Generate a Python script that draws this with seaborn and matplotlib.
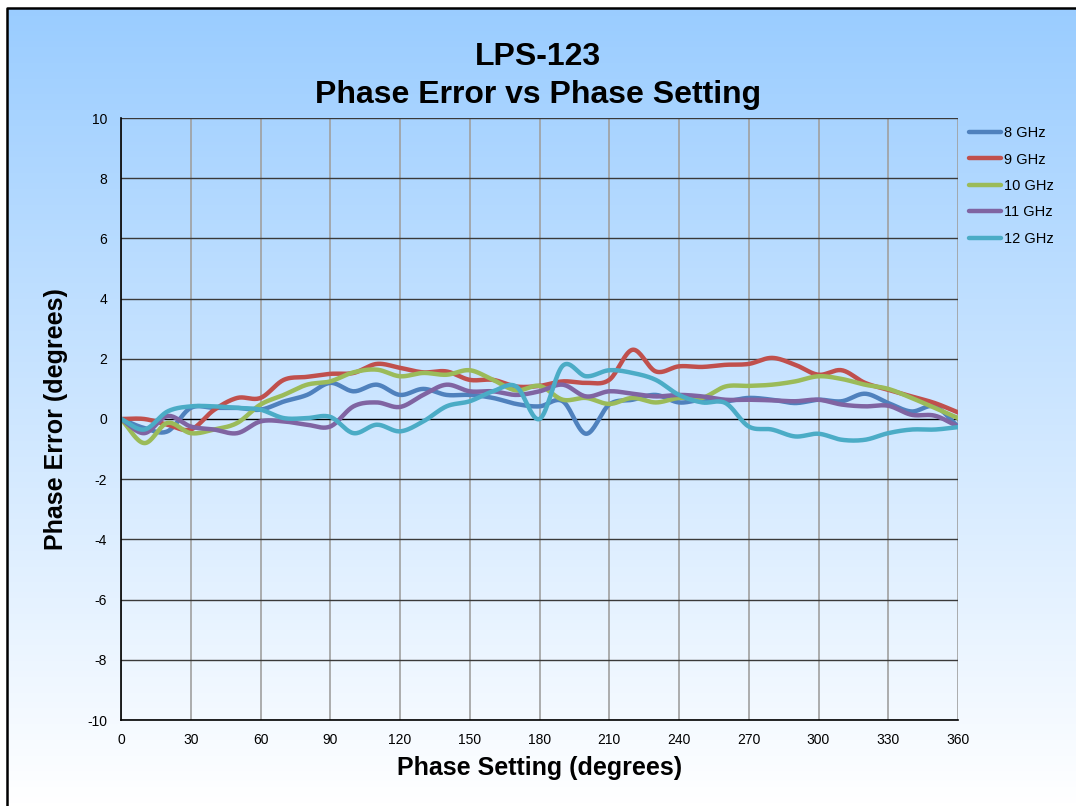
import numpy as np
import pandas as pd
import matplotlib
matplotlib.use("Agg")
import matplotlib.pyplot as plt
import seaborn as sns
from matplotlib.patches import Rectangle
from matplotlib.lines import Line2D

# ---------------- data ----------------
phase = [0, 10, 20, 30, 40, 50, 60, 70, 80, 90, 100, 110, 120, 130, 140, 150, 160, 170, 180,
         190, 200, 210, 220, 230, 240, 250, 260, 270, 280, 290, 300, 310, 320, 330, 340, 350, 360]
series_names = ["8 GHz", "9 GHz", "10 GHz", "11 GHz", "12 GHz"]
err_8 = [0, -0.3, -0.41, 0.37, 0.37, 0.37, 0.31, 0.58, 0.8, 1.2, 0.92, 1.14, 0.8, 1.0, 0.8, 0.8, 0.7, 0.5, 0.42,
         0.59, -0.49, 0.48, 0.64, 0.8, 0.55, 0.64, 0.59, 0.7, 0.64, 0.53, 0.64, 0.59, 0.84, 0.53, 0.25, 0.42, -0.25]
err_9 = [0, 0.0, -0.19, -0.35, 0.3, 0.7, 0.7, 1.3, 1.4, 1.5, 1.53, 1.83, 1.7, 1.55, 1.58, 1.3, 1.3, 1.08, 1.1,
         1.25, 1.2, 1.3, 2.3, 1.58, 1.75, 1.73, 1.8, 1.83, 2.03, 1.8, 1.47, 1.62, 1.2, 0.97, 0.75, 0.53, 0.22]
err_10 = [0, -0.8, -0.13, -0.47, -0.35, -0.13, 0.48, 0.8, 1.14, 1.25, 1.55, 1.64, 1.42, 1.53, 1.47, 1.62, 1.3, 0.95, 1.1,
          0.64, 0.7, 0.5, 0.7, 0.55, 0.7, 0.7, 1.08, 1.1, 1.14, 1.25, 1.42, 1.33, 1.14, 1.0, 0.7, 0.37, 0.03]
err_11 = [0, -0.47, 0.1, -0.25, -0.35, -0.47, -0.08, -0.08, -0.19, -0.25, 0.42, 0.55, 0.4, 0.8, 1.14, 0.92, 0.92, 0.8, 0.92,
          1.14, 0.75, 0.92, 0.84, 0.75, 0.8, 0.75, 0.64, 0.64, 0.62, 0.59, 0.64, 0.48, 0.42, 0.44, 0.14, 0.11, -0.25]
err_12 = [0, -0.35, 0.25, 0.42, 0.42, 0.37, 0.31, 0.03, 0.03, 0.07, -0.47, -0.19, -0.41, -0.08, 0.42, 0.59, 0.92, 1.08, 0.0,
          1.77, 1.42, 1.62, 1.53, 1.3, 0.8, 0.55, 0.53, -0.25, -0.35, -0.58, -0.49, -0.69, -0.69, -0.47, -0.35, -0.35, -0.27]
colors = ["#4F81BD", "#C0504D", "#9BBB59", "#8064A2", "#4BACC6"]
x_ticks = list(range(0, 361, 30))
y_ticks = list(range(-10, 11, 2))


def catmull_rom(x, y, n=20):
    """Smoothed-line rendering (like a spreadsheet 'smoothed line') through the data points."""
    x = np.asarray(x, float)
    y = np.asarray(y, float)
    px = np.concatenate([[2 * x[0] - x[1]], x, [2 * x[-1] - x[-2]]])
    py = np.concatenate([[2 * y[0] - y[1]], y, [2 * y[-1] - y[-2]]])
    xs, ys = [], []
    t = np.linspace(0, 1, n, endpoint=False)
    for i in range(1, len(px) - 2):
        p0, p1, p2, p3 = py[i - 1], py[i], py[i + 1], py[i + 2]
        q0, q1, q2, q3 = px[i - 1], px[i], px[i + 1], px[i + 2]
        ys.append(0.5 * (2 * p1 + (-p0 + p2) * t + (2 * p0 - 5 * p1 + 4 * p2 - p3) * t ** 2 + (-p0 + 3 * p1 - 3 * p2 + p3) * t ** 3))
        xs.append(0.5 * (2 * q1 + (-q0 + q2) * t + (2 * q0 - 5 * q1 + 4 * q2 - q3) * t ** 2 + (-q0 + 3 * q1 - 3 * q2 + q3) * t ** 3))
    xs.append([x[-1]])
    ys.append([y[-1]])
    return np.concatenate(xs), np.concatenate(ys)


frames = []
for name, vals in zip(series_names, [err_8, err_9, err_10, err_11, err_12]):
    sx, sy = catmull_rom(phase, vals)
    frames.append(pd.DataFrame({"phase": sx, "err": sy, "series": name, "order": np.arange(len(sx))}))
df = pd.concat(frames, ignore_index=True)

sns.set_theme(style="white")
plt.rcParams["font.family"] = ["Liberation Sans", "DejaVu Sans"]
plt.rcParams["axes.unicode_minus"] = False
plt.rcParams["text.color"] = "black"
plt.rcParams["axes.labelcolor"] = "black"

W, H = 1076, 806
fig = plt.figure(figsize=(W / 100, H / 100), dpi=100)

# gradient background
bg = fig.add_axes([0, 0, 1, 1], zorder=-10)
grad = np.linspace(0, 1, 256)[:, None]
top = np.array([153, 204, 255]) / 255.0
bot = np.array([255, 255, 255]) / 255.0
img = top[None, None, :] * (1 - grad[:, :, None]) + bot[None, None, :] * grad[:, :, None]
img = np.repeat(img, 2, axis=1)
bg.imshow(img, aspect="auto", extent=[0, 1, 0, 1], origin="upper")
bg.set_xlim(0, 1)
bg.set_ylim(0, 1)
bg.axis("off")
bx0, by1 = 7 / W, 1 - 8 / H
bg.add_patch(Rectangle((0, by1), 1, 1 - by1, facecolor="white", edgecolor="none", zorder=2))
bg.add_patch(Rectangle((0, 0), bx0, 1, facecolor="white", edgecolor="none", zorder=2))
bg.plot([bx0, bx0, 1.01], [-0.01, by1, by1], color="black", lw=1.8, zorder=3, transform=bg.transAxes, clip_on=False)

ax = fig.add_axes([121 / W, 1 - 720 / H, (958 - 121) / W, (720 - 118) / H])
ax.patch.set_alpha(0)

sns.lineplot(data=df, x="phase", y="err", hue="series", hue_order=series_names,
             palette=colors, linewidth=3.2, sort=False, units="series", estimator=None,
             legend=False, ax=ax)

ax.set_xlim(0, 360)
ax.set_ylim(-10, 10)
ax.set_xticks(x_ticks)
ax.set_yticks(y_ticks)
ax.tick_params(axis="x", labelsize=10, colors="black", length=0, pad=9)
ax.tick_params(axis="y", labelsize=10, colors="black", length=0, pad=10)
for v in x_ticks:
    ax.axvline(v, color="#A0A0A0", lw=1.2, zorder=0.5)
for v in y_ticks:
    ax.axhline(v, color="#000000" if v == 0 else "#3A3A3A", lw=1.0, zorder=0.6)
for side in ["top", "right"]:
    ax.spines[side].set_visible(False)
for side in ["left", "bottom"]:
    ax.spines[side].set_color("black")
    ax.spines[side].set_linewidth(1.2)

ax.set_xlabel("Phase Setting (degrees)", fontsize=18, fontweight="bold", labelpad=7)
ax.set_ylabel("Phase Error (degrees)", fontsize=18, fontweight="bold", labelpad=14)

fig.text(538 / W, 1 - 57 / H, "LPS-123", ha="center", va="center", fontsize=23, fontweight="bold")
fig.text(538 / W, 1 - 95 / H, "Phase Error vs Phase Setting", ha="center", va="center", fontsize=23, fontweight="bold")

handles = [Line2D([0], [0], color=c, lw=3.2) for c in colors]
leg = fig.legend(handles, series_names, loc="upper left", bbox_to_anchor=(956 / W, 1 - 113 / H),
                 frameon=False, fontsize=10.5, handlelength=2.2, handletextpad=0.2, labelspacing=0.85)

fig.savefig("out.png", dpi=100)
